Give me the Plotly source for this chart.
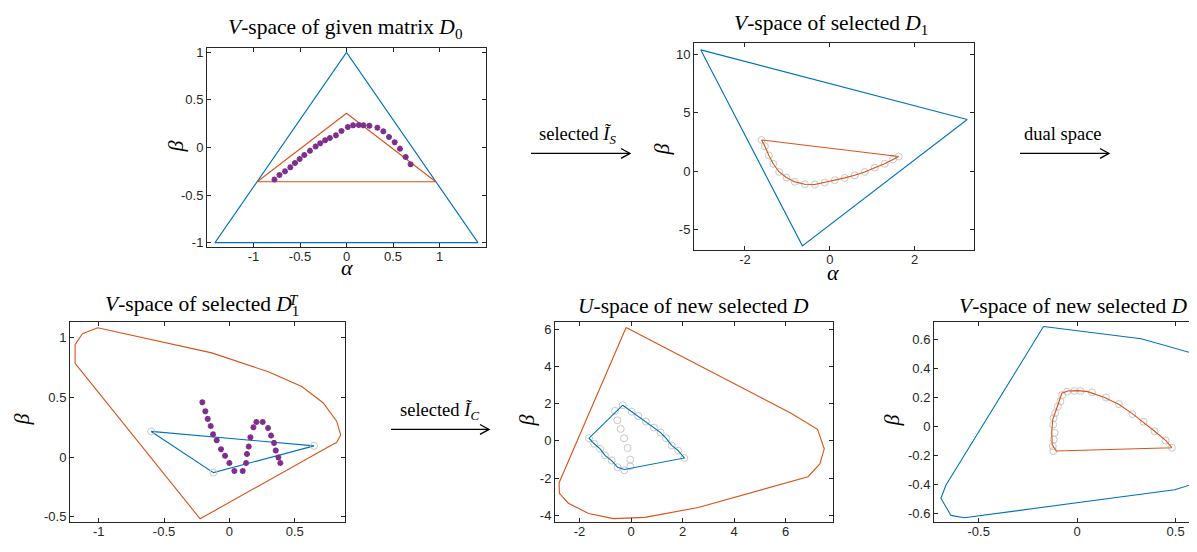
import plotly.graph_objects as go

W, H = 1197, 552
BLUE = "#0072BD"
ORANGE = "#D95319"
PURPLE = "#7E2F8E"
GRAY = "#C8C8C8"
INK = "#262626"
SERIF = "Liberation Serif, Times New Roman, serif"
SANS = "Liberation Sans, Arial, sans-serif"

# ---------------- data ----------------
# Panel 1: V-space of given matrix D0
p1_blue_a = [0, -1.414, 1.414, 0]
p1_blue_b = [1, -1, -1, 1]
p1_orange_a = [0, -0.96, 0.96, 0]
p1_orange_b = [0.36, -0.36, -0.36, 0.36]
p1_star_a = [-0.775, -0.721, -0.661, -0.604, -0.554, -0.504, -0.454, -0.393, -0.332, -0.282,
             -0.229, -0.179, -0.114, -0.054, 0.014, 0.071, 0.132, 0.182, 0.246, 0.332,
             0.396, 0.457, 0.518, 0.575, 0.636, 0.689]
p1_star_b = [-0.337, -0.288, -0.25, -0.208, -0.163, -0.122, -0.08, -0.035, 0.01, 0.045,
             0.076, 0.10, 0.128, 0.174, 0.215, 0.233, 0.236, 0.233, 0.229, 0.208,
             0.17, 0.111, 0.056, -0.014, -0.10, -0.177]

# Panel 2: V-space of selected D1
p2_blue_a = [-3.04, 3.24, -0.645, -3.04]
p2_blue_b = [10.38, 4.41, -6.41, 10.38]
p2_curve_a = [-1.608, -1.529, -1.435, -1.333, -1.192, -1.02, -0.824, -0.588, -0.353, -0.118,
              0.118, 0.353, 0.588, 0.824, 1.059, 1.294, 1.49, 1.624]
p2_curve_b = [2.66, 2.12, 1.33, 0.62, -0.08, -0.56, -0.93, -1.13, -1.16, -0.99,
              -0.79, -0.59, -0.37, -0.08, 0.28, 0.62, 0.99, 1.24]

# Panel 3: V-space of selected D1^T
p3_orange_a = [-1.181, -1.181, -1.125, -1.008, -0.135, 0.298, 0.554, 0.719, 0.821, 0.852,
               0.821, 0.783, -0.224, -1.181]
p3_orange_b = [0.785, 0.942, 1.033, 1.083, 0.873, 0.715, 0.591, 0.453, 0.301, 0.185,
               0.122, 0.102, -0.517, 0.785]
p3_blue_a = [-0.599, 0.648, -0.122, -0.599]
p3_blue_b = [0.215, 0.094, -0.130, 0.215]
p3_star_a = [-0.207, -0.184, -0.166, -0.143, -0.125, -0.097, -0.064, -0.033, 0.0, 0.038,
             0.102, 0.128, 0.135, 0.148, 0.161, 0.184, 0.207, 0.255, 0.296, 0.319,
             0.342, 0.355, 0.375, 0.390]
p3_star_b = [0.459, 0.384, 0.320, 0.260, 0.191, 0.141, 0.066, 0.011, -0.050, -0.116,
             -0.116, -0.050, 0.025, 0.088, 0.166, 0.249, 0.293, 0.293, 0.243, 0.180,
             0.119, 0.055, -0.003, -0.050]

# Panel 4: U-space of new selected D
p4_orange_a = [-0.19, 6.23, 7.24, 7.5, 7.33, 6.87, 2.61, 0.54, -0.68, -1.65, -2.43, -2.78, -2.79, -0.19]
p4_orange_b = [6.08, 1.47, 0.62, -0.43, -1.24, -1.93, -3.58, -4.11, -4.18, -3.9, -3.35, -2.82, -2.25, 6.08]
p4_blue_a = [-0.32, 0.03, 0.28, 0.58, 0.89, 1.15, 1.36, 1.58, 1.83, 2.07, -0.26, -0.52, -0.75,
             -1.01, -1.20, -1.43, -1.63, -0.32]
p4_blue_b = [1.91, 1.56, 1.33, 1.03, 0.71, 0.44, 0.14, -0.25, -0.53, -0.92, -1.54, -1.42, -1.06,
             -0.78, -0.43, -0.16, 0.14, 1.91]
p4_circ_a = [-0.62, -0.53, -0.40, -0.27, -0.13, -0.03, -0.03, -0.26, -0.52, -0.75, -1.01, -1.20,
             -1.43, -1.63, -0.32, 0.03, 0.28, 0.58, 0.89, 1.15, 1.36, 1.58, 1.83, 2.07]
p4_circ_b = [1.61, 1.10, 0.64, 0.14, -0.39, -1.01, -1.37, -1.58, -1.42, -1.06, -0.78, -0.43,
             -0.16, 0.14, 1.91, 1.56, 1.33, 1.03, 0.71, 0.44, 0.14, -0.25, -0.53, -0.92]

# Panel 5: V-space of new selected D
p5_blue_a = [-0.171, 0.325, 0.622, 0.66, 0.597, 0.495, -0.573, -0.641, -0.692, -0.666, -0.171]
p5_blue_b = [0.689, 0.605, 0.491, 0.44, -0.391, -0.434, -0.627, -0.611, -0.493, -0.402, 0.689]
p5_curve_a = [0.481, -0.107, -0.127, -0.129, -0.124, -0.112, -0.095, -0.078, -0.047, 0.003,
              0.054, 0.139, 0.215, 0.283, 0.342, 0.393, 0.449, 0.481]
p5_curve_b = [-0.145, -0.168, -0.123, -0.032, 0.048, 0.1, 0.161, 0.23, 0.245, 0.248,
              0.241, 0.2, 0.15, 0.086, 0.025, -0.032, -0.095, -0.145]
p5_circ_a = [-0.121, -0.124, -0.119, -0.115, -0.122, -0.120, -0.112, -0.098, -0.085, -0.076,
             -0.051, -0.014, 0.017, 0.075, 0.146, 0.212, 0.280, 0.337, 0.393, 0.449, 0.481]
p5_circ_b = [-0.168, -0.134, -0.089, -0.043, 0.014, 0.059, 0.093, 0.139, 0.173, 0.218,
             0.241, 0.245, 0.245, 0.236, 0.200, 0.155, 0.086, 0.034, -0.032, -0.095, -0.145]

# ticks
p1_xticks = [-1, -0.5, 0, 0.5, 1]; p1_xlabels = ["-1", "-0.5", "0", "0.5", "1"]
p1_yticks = [-1, -0.5, 0, 0.5, 1]; p1_ylabels = ["-1", "-0.5", "0", "0.5", "1"]
p2_xticks = [-2, 0, 2]; p2_xlabels = ["-2", "0", "2"]
p2_yticks = [-5, 0, 5, 10]; p2_ylabels = ["-5", "0", "5", "10"]
p3_xticks = [-1, -0.5, 0, 0.5]; p3_xlabels = ["-1", "-0.5", "0", "0.5"]
p3_yticks = [-0.5, 0, 0.5, 1]; p3_ylabels = ["-0.5", "0", "0.5", "1"]
p4_xticks = [-2, 0, 2, 4, 6]; p4_xlabels = ["-2", "0", "2", "4", "6"]
p4_yticks = [-4, -2, 0, 2, 4, 6]; p4_ylabels = ["-4", "-2", "0", "2", "4", "6"]
p5_xticks = [-0.5, 0, 0.5]; p5_xlabels = ["-0.5", "0", "0.5"]
p5_yticks = [-0.6, -0.4, -0.2, 0, 0.2, 0.4, 0.6]
p5_ylabels = ["-0.6", "-0.4", "-0.2", "0", "0.2", "0.4", "0.6"]

# ---------------- layout helpers ----------------
def xdom(l, r):
    return [l / W, min(r / W, 1.0)]

def ydom(t, b):
    return [1 - b / H, 1 - t / H]

def px(x):
    return x / W

def py(y):
    return 1 - y / H

fig = go.Figure()

def line(a, b, color, ax, width=1.1):
    fig.add_trace(go.Scatter(x=a, y=b, mode="lines", line=dict(color=color, width=width),
                             xaxis="x" + ax, yaxis="y" + ax, hoverinfo="skip"))

def stars(a, b, ax):
    fig.add_trace(go.Scatter(x=a, y=b, mode="markers",
                             marker=dict(symbol="asterisk-open", size=5, color=PURPLE,
                                         line=dict(color=PURPLE, width=1.8)),
                             xaxis="x" + ax, yaxis="y" + ax, hoverinfo="skip"))

def circles(a, b, ax):
    fig.add_trace(go.Scatter(x=a, y=b, mode="markers",
                             marker=dict(symbol="circle-open", size=7, color=GRAY,
                                         line=dict(color=GRAY, width=1)),
                             xaxis="x" + ax, yaxis="y" + ax, hoverinfo="skip"))

# Panel 1
line(p1_blue_a, p1_blue_b, BLUE, "")
line(p1_orange_a, p1_orange_b, ORANGE, "")
stars(p1_star_a, p1_star_b, "")
# Panel 2
line(p2_blue_a, p2_blue_b, BLUE, "2")
circles(p2_curve_a, p2_curve_b, "2")
line(p2_curve_a + p2_curve_a[:1], p2_curve_b + p2_curve_b[:1], ORANGE, "2")
# Panel 3
line(p3_orange_a, p3_orange_b, ORANGE, "3")
line(p3_blue_a, p3_blue_b, BLUE, "3")
circles(p3_blue_a[:3], p3_blue_b[:3], "3")
stars(p3_star_a, p3_star_b, "3")
# Panel 4
line(p4_orange_a, p4_orange_b, ORANGE, "4")
circles(p4_circ_a, p4_circ_b, "4")
line(p4_blue_a, p4_blue_b, BLUE, "4")
# Panel 5
line(p5_blue_a, p5_blue_b, BLUE, "5")
circles(p5_circ_a, p5_circ_b, "5")
line(p5_curve_a, p5_curve_b, ORANGE, "5")

def axis(dom, rng, tv, tt, anchor, mirror="allticks", showline=True, standoff=0):
    return dict(domain=dom, range=rng, tickvals=tv, ticktext=tt, anchor=anchor,
                showline=showline, mirror=mirror, linecolor=INK, linewidth=1,
                ticks="inside", ticklen=4, tickcolor=INK, tickwidth=1,
                showgrid=False, zeroline=False, ticklabelstandoff=standoff,
                tickfont=dict(family=SANS, size=13, color=INK))

XS = -3
layout = dict(
    width=W, height=H, margin=dict(l=0, r=0, t=0, b=0),
    paper_bgcolor="white", plot_bgcolor="white", showlegend=False,
    xaxis=axis(xdom(199, 478), [-1.5, 1.5], p1_xticks, p1_xlabels, "y", standoff=XS),
    yaxis=axis(ydom(37, 239), [-1.05, 1.05], p1_yticks, p1_ylabels, "x"),
    xaxis2=axis(xdom(686, 966), [-3.2, 3.4], p2_xticks, p2_xlabels, "y2", standoff=XS),
    yaxis2=axis(ydom(32, 242), [-6.8, 11], p2_yticks, p2_ylabels, "x2"),
    xaxis3=axis(xdom(62, 337), [-1.22, 0.885], p3_xticks, p3_xlabels, "y3", standoff=XS),
    yaxis3=axis(ydom(314, 517), [-0.547, 1.135], p3_yticks, p3_ylabels, "x3"),
    xaxis4=axis(xdom(547, 825), [-2.95, 7.84], p4_xticks, p4_xlabels, "y4", standoff=XS),
    yaxis4=axis(ydom(314, 517), [-4.38, 6.4], p4_yticks, p4_ylabels, "x4"),
    xaxis5=axis(xdom(926, 1197), [-0.727, 0.649], p5_xticks, p5_xlabels, "y5", mirror="ticks",
                standoff=XS),
    yaxis5=axis(ydom(314, 517), [-0.659, 0.723], p5_yticks, p5_ylabels, "x5", mirror=False),
)

ann = []
def text(x, y, s, size, angle=0, xanchor="center", yanchor="middle"):
    ann.append(dict(x=px(x), y=py(y), xref="paper", yref="paper", text=s, showarrow=False,
                    font=dict(family=SERIF, size=size, color="black"), textangle=angle,
                    xanchor=xanchor, yanchor=yanchor))

TS = 21.5
text(337, 18, "<i>V</i>-space of given matrix <i>D</i><sub>0</sub>", TS)
text(823, 14, "<i>V</i>-space of selected <i>D</i><sub>1</sub>", TS)
text(293, 298, "<i>V</i>-space of selected <i>D</i><sub>1</sub>", TS, xanchor="right")
text(286, 292, "<i>T</i>", 15)
text(685, 298, "<i>U</i>-space of new selected <i>D</i>", TS)
text(1065, 298, "<i>V</i>-space of new selected <i>D</i>", TS)

AS = 22
for (x, y) in [(339, 259), (825, 264), (195, 556), (685, 556), (1065, 556)]:
    text(x, y, "<i>α</i>", AS)
for (x, y) in [(168, 137), (653, 140), (14, 413), (518, 414), (883, 414)]:
    text(x, y, "<i>β</i>", AS, angle=-90)

text(569, 126, "selected <i>Ĩ</i><sub><i>S</i></sub>", 18.5)
text(1055, 124, "dual space", 18.5)
text(431, 405, "selected <i>Ĩ</i><sub><i>C</i></sub>", 18.5)

shapes = []
def arrow(x0, x1, y):
    shapes.append(dict(type="line", xref="paper", yref="paper", x0=px(x0), x1=px(x1),
                       y0=py(y), y1=py(y), line=dict(color="black", width=1.3)))
    shapes.append(dict(type="path", xref="paper", yref="paper",
                       path=f"M {px(x1-9)} {py(y-5)} L {px(x1)} {py(y)} L {px(x1-9)} {py(y+5)}",
                       line=dict(color="black", width=1.3)))

arrow(523, 622, 144)
arrow(1012, 1101, 144)
arrow(383, 481, 423)

layout["annotations"] = ann
layout["shapes"] = shapes
fig.update_layout(**layout)
fig.write_html("out.html")
